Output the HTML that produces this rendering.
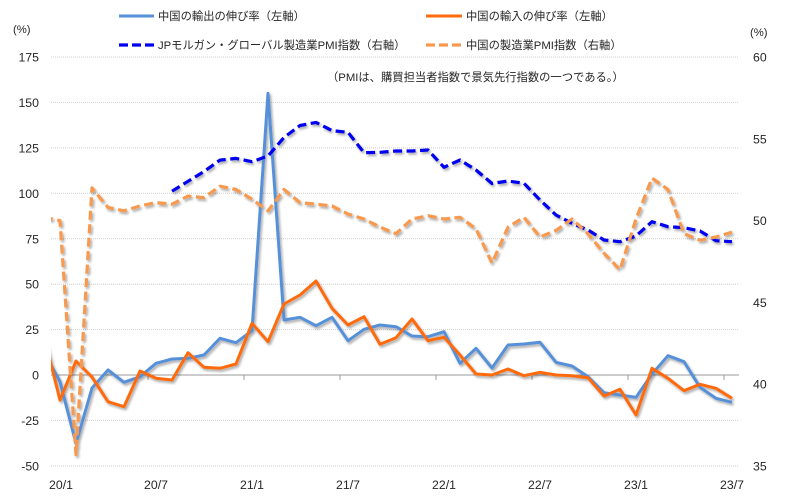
<!DOCTYPE html>
<html><head><meta charset="utf-8"><style>
html,body{margin:0;padding:0;background:#fff;}
svg{display:block;}
text{font-family:"Liberation Sans","Noto Sans CJK JP",sans-serif;fill:#262626;}
.t{font-size:12.3px;}
.l{font-size:11.3px;}
</style></head><body>
<svg width="792" height="504" viewBox="0 0 792 504" xmlns="http://www.w3.org/2000/svg">
<defs>
<filter id="sh" x="-5%" y="-5%" width="110%" height="110%">
<feGaussianBlur in="SourceAlpha" stdDeviation="1.3"/>
<feOffset dx="1.5" dy="2.2" result="b"/>
<feComponentTransfer><feFuncA type="linear" slope="0.35"/></feComponentTransfer>
<feMerge><feMergeNode/><feMergeNode in="SourceGraphic"/></feMerge>
</filter>
<clipPath id="cp"><rect x="51" y="40" width="689" height="440"/></clipPath>
</defs>
<!-- gridlines -->
<g stroke="#cfcfcf" stroke-width="1" stroke-dasharray="1 1">
<line x1="51" y1="57" x2="739" y2="57"/>
<line x1="51" y1="102.4" x2="739" y2="102.4"/>
<line x1="51" y1="147.9" x2="739" y2="147.9"/>
<line x1="51" y1="193.3" x2="739" y2="193.3"/>
<line x1="51" y1="238.8" x2="739" y2="238.8"/>
<line x1="51" y1="284.2" x2="739" y2="284.2"/>
<line x1="51" y1="329.6" x2="739" y2="329.6"/>
<line x1="51" y1="420.4" x2="739" y2="420.4"/>
<line x1="51" y1="466" x2="739" y2="466"/>
</g>
<line x1="51" y1="375" x2="739" y2="375" stroke="#9a9a9a" stroke-width="1"/>
<g stroke="#9a9a9a" stroke-width="1">
<line x1="148" y1="375" x2="148" y2="380"/>
<line x1="244" y1="375" x2="244" y2="380"/>
<line x1="340" y1="375" x2="340" y2="380"/>
<line x1="436" y1="375" x2="436" y2="380"/>
<line x1="532" y1="375" x2="532" y2="380"/>
<line x1="628" y1="375" x2="628" y2="380"/>
<line x1="724" y1="375" x2="724" y2="380"/>
</g>
<!-- left axis labels -->
<g class="t" text-anchor="end">
<text x="39" y="61.5">175</text>
<text x="39" y="106.9">150</text>
<text x="39" y="152.4">125</text>
<text x="39" y="197.8">100</text>
<text x="39" y="243.3">75</text>
<text x="39" y="288.7">50</text>
<text x="39" y="334.1">25</text>
<text x="39" y="379.5">0</text>
<text x="39" y="424.9">-25</text>
<text x="39" y="470.5">-50</text>
</g>
<!-- right axis labels -->
<g class="t">
<text x="753" y="61.5">60</text>
<text x="753" y="143.3">55</text>
<text x="753" y="225.1">50</text>
<text x="753" y="306.9">45</text>
<text x="753" y="388.7">40</text>
<text x="753" y="470.5">35</text>
</g>
<text class="l" x="13" y="33">(%)</text>
<text class="l" x="750" y="36">(%)</text>
<!-- x labels -->
<g class="t" text-anchor="middle">
<text x="61" y="489">20/1</text>
<text x="156" y="489">20/7</text>
<text x="252" y="489">21/1</text>
<text x="348" y="489">21/7</text>
<text x="444" y="489">22/1</text>
<text x="540" y="489">22/7</text>
<text x="636" y="489">23/1</text>
<text x="732" y="489">23/7</text>
</g>
<!-- series -->
<g clip-path="url(#cp)" fill="none" stroke-linejoin="round" filter="url(#sh)">
<polyline stroke="#5590D9" stroke-width="3" points="44,352 60,381.7 76,443.5 92,388 108,370 124,382.3 140,376.7 156,363.3 172,359 188,358.3 204,355 220,338.3 236,342.7 252,330.7 268,93.4 284,320 300,317.3 316,325.7 332,317.3 348,340.7 364,329.3 380,325 396,326.7 412,336 428,336.7 444,331.7 460,363.3 476,348.3 492,368 508,345 524,344 540,342.3 556,362.3 572,366 588,376.7 604,392.7 620,395 636,397.3 652,374 668,355.7 684,361.7 700,387.3 716,398.3 732,402.3"/>
<polyline stroke="#FF6A0A" stroke-width="3" points="44,336 60,400 76,361 92,377 108,401.7 124,406.7 140,371 156,378.3 172,380 188,352.7 204,367.3 220,368.3 236,364 252,323.3 268,341.7 284,304 300,295 316,281 332,308.3 348,325 364,316.7 380,344.3 396,337.7 412,319 428,340.7 444,337.3 460,355 476,374 492,375 508,369 524,375.7 540,372.3 556,375 572,375.7 588,377.7 604,396 620,389.3 636,415 652,368.3 668,378.3 684,390.7 700,384.3 716,388.3 732,398.3"/>
<polyline stroke="#0000F0" stroke-width="3.2" stroke-dasharray="9 4.5" points="172,191.2 188,181.3 204,171.5 220,160.1 236,158.4 252,161.7 268,156 284,137.5 300,125.5 316,122.4 332,130.6 348,132.3 364,152.7 380,152.3 396,151 412,151 428,150 444,167.3 460,160 476,170 492,183.5 508,181 524,183.3 540,200 556,215 572,223.3 588,230 604,240 620,241.7 636,236 652,221.7 668,226.7 684,227.7 700,231 716,240.7 732,241.7"/>
<polyline stroke="#F79A50" stroke-width="3.2" stroke-dasharray="9 4.5" points="44,217.3 60,220.6 76,454.5 92,187.9 108,207.5 124,210.8 140,205.9 156,202.6 172,204.2 188,196.1 204,197.7 220,186.2 236,189.5 252,199.3 268,210.8 284,189.5 300,202.6 316,204.2 332,205.9 348,214 364,219 380,227.1 396,233.7 412,219 428,215.7 444,219 460,217.3 476,228.8 492,263.1 508,227.1 524,217.3 540,237 556,230.4 572,219 588,233.7 604,253.3 620,269.7 636,219 652,178.1 668,189.5 684,233.7 700,240.2 716,237 732,232.1"/>
</g>
<!-- legend -->
<line x1="119" y1="16" x2="154" y2="16" stroke="#5590D9" stroke-width="3"/>
<text class="l" x="158" y="20">中国の輸出の伸び率（左軸）</text>
<line x1="426" y1="16" x2="462" y2="16" stroke="#FF6A0A" stroke-width="3"/>
<text class="l" x="466" y="20">中国の輸入の伸び率（左軸）</text>
<line x1="119" y1="45" x2="154" y2="45" stroke="#0000F0" stroke-width="3.2" stroke-dasharray="9 4"/>
<text class="l" x="158" y="49">JPモルガン・グローバル製造業PMI指数（右軸）</text>
<line x1="426" y1="45" x2="462" y2="45" stroke="#F79A50" stroke-width="3.2" stroke-dasharray="9 4"/>
<text class="l" x="466" y="49">中国の製造業PMI指数（右軸）</text>
<text class="l" x="327" y="81">（PMIは、購買担当者指数で景気先行指数の一つである。）</text>
</svg>
</body></html>
